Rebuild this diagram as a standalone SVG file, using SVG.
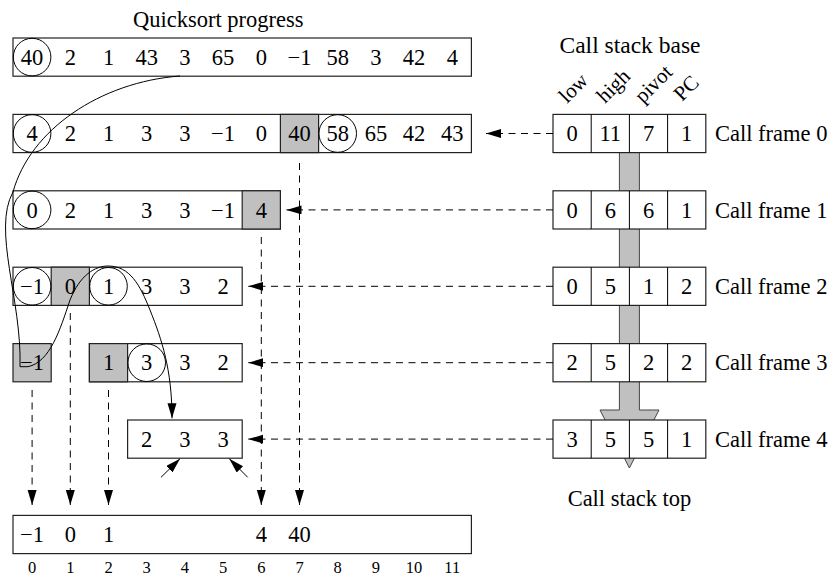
<svg xmlns="http://www.w3.org/2000/svg" width="833" height="579" viewBox="0 0 833 579">
<style>
text{font-family:"Liberation Serif","Times New Roman",serif;fill:#000}
.v{font-size:22.5px;text-anchor:middle}
.t{font-size:22.5px}
.lab{font-size:21px}
.ix{font-size:16.5px;text-anchor:middle}
.box{fill:#fff;stroke:#222;stroke-width:1.2}
.g{fill:#c0c0c0;stroke:#222;stroke-width:1.2}
.c{fill:none;stroke:#000;stroke-width:1}
.dash{fill:none;stroke:#000;stroke-width:1;stroke-dasharray:7 5.5;marker-end:url(#ah)}
.sol{fill:none;stroke:#000;stroke-width:1;marker-end:url(#ah)}
</style>
<defs>
<marker id="ah" markerUnits="userSpaceOnUse" markerWidth="16" markerHeight="10" refX="15" refY="4.5" orient="auto">
<path d="M0,0 L15,4.5 L0,9 Z" fill="#000" stroke="none"/>
</marker>
</defs>
<rect width="833" height="579" fill="#fff"/>

<text class="t" x="133" y="27">Quicksort progress</text>
<text class="t" x="630" y="53" text-anchor="middle" style="font-size:23.5px">Call stack base</text>
<text class="t" x="629.5" y="506" text-anchor="middle">Call stack top</text>

<g id="colLabels">
<text class="lab" transform="translate(567,104) rotate(-45)">low</text>
<text class="lab" transform="translate(605,104) rotate(-45)">high</text>
<text class="lab" transform="translate(643,104) rotate(-45)">pivot</text>
<text class="lab" transform="translate(682,102) rotate(-45)">PC</text>
</g>

<g id="stackArrow">
<polygon points="619.4,140 639.4,140 639.4,410 659,410 629.4,468 600,410 619.4,410" fill="#c0c0c0" stroke="#444" stroke-width="1"/>
</g>

<g id="row0">
<rect class="box" x="13" y="38" width="458.4" height="38.2"/>
<circle class="c" cx="32.1" cy="57.1" r="18.8"/>
<text class="v" y="64.8"><tspan x="32.1">40</tspan><tspan x="70.3">2</tspan><tspan x="108.5">1</tspan><tspan x="146.7">43</tspan><tspan x="184.9">3</tspan><tspan x="223.1">65</tspan><tspan x="261.3">0</tspan><tspan x="299.5">−1</tspan><tspan x="337.7">58</tspan><tspan x="375.9">3</tspan><tspan x="414.1">42</tspan><tspan x="452.3">4</tspan></text>
</g>

<g id="row1">
<rect class="box" x="13" y="114.4" width="458.4" height="38.2"/>
<rect class="g" x="280.4" y="114.4" width="38.2" height="38.2"/>
<circle class="c" cx="32.1" cy="133.5" r="18.8"/>
<circle class="c" cx="337.7" cy="133.5" r="18.8"/>
<text class="v" y="141.2"><tspan x="32.1">4</tspan><tspan x="70.3">2</tspan><tspan x="108.5">1</tspan><tspan x="146.7">3</tspan><tspan x="184.9">3</tspan><tspan x="223.1">−1</tspan><tspan x="261.3">0</tspan><tspan x="299.5">40</tspan><tspan x="337.7">58</tspan><tspan x="375.9">65</tspan><tspan x="414.1">42</tspan><tspan x="452.3">43</tspan></text>
</g>

<g id="row2">
<rect class="box" x="13" y="190.8" width="267.4" height="38.2"/>
<rect class="g" x="242.2" y="190.8" width="38.2" height="38.2"/>
<circle class="c" cx="32.1" cy="209.9" r="18.8"/>
<text class="v" y="217.6"><tspan x="32.1">0</tspan><tspan x="70.3">2</tspan><tspan x="108.5">1</tspan><tspan x="146.7">3</tspan><tspan x="184.9">3</tspan><tspan x="223.1">−1</tspan><tspan x="261.3">4</tspan></text>
</g>

<g id="row3">
<rect class="box" x="13" y="267.2" width="229.2" height="38.2"/>
<rect class="g" x="51.2" y="267.2" width="38.2" height="38.2"/>
<circle class="c" cx="32.1" cy="286.3" r="18.8"/>
<circle class="c" cx="108.5" cy="286.3" r="18.8"/>
<text class="v" y="294"><tspan x="32.1">−1</tspan><tspan x="70.3">0</tspan><tspan x="108.5">1</tspan><tspan x="146.7">3</tspan><tspan x="184.9">3</tspan><tspan x="223.1">2</tspan></text>
</g>

<g id="row4a">
<rect class="g" x="13" y="343.6" width="38.2" height="38.2"/>
<text class="v" x="32.1" y="370.4">−1</text>
</g>

<g id="row4b">
<rect class="box" x="89.4" y="343.6" width="152.8" height="38.2"/>
<rect class="g" x="89.4" y="343.6" width="38.2" height="38.2"/>
<circle class="c" cx="146.7" cy="362.7" r="18.8"/>
<text class="v" y="370.4"><tspan x="108.5">1</tspan><tspan x="146.7">3</tspan><tspan x="184.9">3</tspan><tspan x="223.1">2</tspan></text>
</g>

<g id="row5">
<rect class="box" x="127.6" y="420" width="114.6" height="38.2"/>
<text class="v" y="446.8"><tspan x="146.7">2</tspan><tspan x="184.9">3</tspan><tspan x="223.1">3</tspan></text>
</g>

<g id="result">
<rect class="box" x="13" y="515.4" width="458.4" height="38.2"/>
<text class="v" y="542.2"><tspan x="32.1">−1</tspan><tspan x="70.3">0</tspan><tspan x="108.5">1</tspan><tspan x="261.3">4</tspan><tspan x="299.5">40</tspan></text>
<text class="ix" y="573"><tspan x="32.1">0</tspan><tspan x="70.3">1</tspan><tspan x="108.5">2</tspan><tspan x="146.7">3</tspan><tspan x="184.9">4</tspan><tspan x="223.1">5</tspan><tspan x="261.3">6</tspan><tspan x="299.5">7</tspan><tspan x="337.7">8</tspan><tspan x="375.9">9</tspan><tspan x="414.1">10</tspan><tspan x="452.3">11</tspan></text>
</g>

<g id="frame0">
<rect class="box" x="553" y="114.4" width="152.8" height="38.2"/>
<path class="c" d="M591.2,114.4V152.6M629.4,114.4V152.6M667.6,114.4V152.6"/>
<text class="v" y="141.2"><tspan x="572.1">0</tspan><tspan x="610.3">11</tspan><tspan x="648.5">7</tspan><tspan x="686.7">1</tspan></text>
<text class="t" x="715" y="141.2">Call frame 0</text>
</g>
<g id="frame1">
<rect class="box" x="553" y="190.8" width="152.8" height="38.2"/>
<path class="c" d="M591.2,190.8V229M629.4,190.8V229M667.6,190.8V229"/>
<text class="v" y="217.6"><tspan x="572.1">0</tspan><tspan x="610.3">6</tspan><tspan x="648.5">6</tspan><tspan x="686.7">1</tspan></text>
<text class="t" x="715" y="217.6">Call frame 1</text>
</g>
<g id="frame2">
<rect class="box" x="553" y="267.2" width="152.8" height="38.2"/>
<path class="c" d="M591.2,267.2V305.4M629.4,267.2V305.4M667.6,267.2V305.4"/>
<text class="v" y="294"><tspan x="572.1">0</tspan><tspan x="610.3">5</tspan><tspan x="648.5">1</tspan><tspan x="686.7">2</tspan></text>
<text class="t" x="715" y="294">Call frame 2</text>
</g>
<g id="frame3">
<rect class="box" x="553" y="343.6" width="152.8" height="38.2"/>
<path class="c" d="M591.2,343.6V381.8M629.4,343.6V381.8M667.6,343.6V381.8"/>
<text class="v" y="370.4"><tspan x="572.1">2</tspan><tspan x="610.3">5</tspan><tspan x="648.5">2</tspan><tspan x="686.7">2</tspan></text>
<text class="t" x="715" y="370.4">Call frame 3</text>
</g>
<g id="frame4">
<rect class="box" x="553" y="420" width="152.8" height="38.2"/>
<path class="c" d="M591.2,420V458.2M629.4,420V458.2M667.6,420V458.2"/>
<text class="v" y="446.8"><tspan x="572.1">3</tspan><tspan x="610.3">5</tspan><tspan x="648.5">5</tspan><tspan x="686.7">1</tspan></text>
<text class="t" x="715" y="446.8">Call frame 4</text>
</g>

<g id="connectors">
<path class="dash" d="M553,133.5H486"/>
<path class="dash" d="M553,209.9H286.5"/>
<path class="dash" d="M553,286.3H248.3"/>
<path class="dash" d="M553,362.7H248.3"/>
<path class="dash" d="M553,439.1H248.3"/>
<path class="dash" d="M299.5,163V505"/>
<path class="dash" d="M261.3,237V505"/>
<path class="dash" d="M70.3,313V505"/>
<path class="dash" d="M32.1,390V505"/>
<path class="dash" d="M108.5,390V505"/>
<path class="sol" d="M180,76 C100,82 30,130 13,192 C-8,230 22,300 20,366.7 L28,366.7 C50,362 60,330 70,300 C80,275 95,266 108,266 C130,266 140,285 150,310 C162,340 172,370 172,418.3"/>
<path class="sol" d="M161,477.3 L180,458.7"/>
<path class="sol" d="M247.7,477.3 L229.3,458.7"/>
</g>
</svg>
